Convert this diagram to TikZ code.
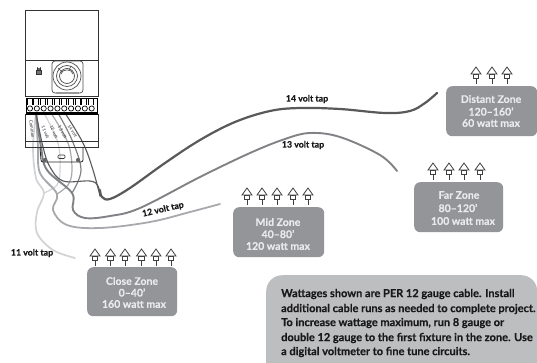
\documentclass[tikz,border=0pt]{standalone}
\usepackage{fontspec}
\setmainfont{Lato}[BoldFeatures={FakeBold=0.25}]
\definecolor{zonegray}{HTML}{939598}
\definecolor{notegray}{HTML}{BDBEC0}
\definecolor{zonetext}{HTML}{E9EAEB}
\definecolor{wa}{HTML}{58595B}
\definecolor{wb}{HTML}{808285}
\definecolor{wc}{HTML}{A7A9AC}
\definecolor{wd}{HTML}{D1D3D4}
\tikzset{
  zonebox/.style={fill=zonegray,rounded corners=6pt,draw=none},
  zonetxt/.style={text=zonetext,font=\fontsize{10.5}{12}\selectfont\bfseries,anchor=center,inner sep=0pt},
  taplabel/.style={font=\fontsize{8.8}{10}\selectfont\bfseries,text=black!90,inner sep=0pt},
  wirelabel/.style={font=\fontsize{4.4}{6}\selectfont,text=black!85,inner sep=0pt},
  notetxt/.style={font=\fontsize{11}{11}\selectfont\bfseries,text=black!90,anchor=west,inner sep=0pt},
  device/.style={draw=black!80,line width=.9pt},
  wire/.style={line width=#1,line cap=round,line join=round},
  fixture/.pic={
    \draw[black!75,line width=.8pt,fill=white] (-5,7) -- (0,0) -- (5,7) -- (3,7) -- (-3,7) -- cycle;
    \draw[black!75,line width=.8pt,fill=white] (-2.8,7) rectangle (2.8,11);
    \draw[black!75,line width=.8pt] (0,11) -- (0,17);
  }
}
\begin{document}
\begin{tikzpicture}[x=1pt,y=-1pt]
\useasboundingbox (0,0) rectangle (537,362);
\fill[white] (0,0) rectangle (537,362);

% terminals and free wire ends
\coordinate (tc) at (36,113);
\coordinate (t11) at (44,113);
\coordinate (t12) at (51,113);
\coordinate (t13) at (58,113);
\coordinate (t14) at (65,113);
\coordinate (e11) at (75,258);
\coordinate (e12) at (220,204);
\coordinate (e13) at (397,171);
\coordinate (e14) at (437,93);

% wires
\draw[wire=1.7pt,wd] plot[smooth,tension=.6] coordinates {(tc) (33,147) (36,178) (44,193) (37,212) (37,233) (53,250) (e11)};
\draw[wire=1.2pt,wd] plot[smooth,tension=.6] coordinates {(t11) (58,143) (60,170) (57,185) (44,193)};
\draw[wire=1.8pt,wc] plot[smooth,tension=.6] coordinates {(tc) (38,147) (40,173) (57,194) (53,210) (67,225) (100,228) (150,222) (190,212) (e12)};
\draw[wire=1.2pt,wc] plot[smooth,tension=.6] coordinates {(t12) (68,143) (72,170) (68,185) (57,194)};
\draw[wire=1.9pt,wb] plot[smooth,tension=.6] coordinates {(tc) (41,147) (47,170) (72,193) (73,210) (85,218) (110,216) (140,208) (200,177) (250,153) (285,139) (310,133) (340,137) (380,155) (e13)};
\draw[wire=1.2pt,wb] plot[smooth,tension=.6] coordinates {(t13) (72,140) (81,170) (72,193)};
\draw[wire=1.1pt,wa] plot[smooth,tension=.6] coordinates {(tc) (43,147) (50,167) (63,181) (90,181) (98,186) (100,196)};
\draw[wire=1.1pt,wa] plot[smooth,tension=.6] coordinates {(t14) (83,143) (93,170) (100,196)};
\draw[wire=2.2pt,wa] plot[smooth,tension=.6] coordinates {(100,190) (102,197) (110,199) (130,188) (165,163) (200,140) (235,122) (270,111) (300,108) (340,109) (385,113) (410,111) (425,103) (e14)};

% device
\node[device,fill=white,minimum width=73pt,minimum height=50pt,inner sep=0pt,anchor=north west] (top) at (25,9.5) {};
\node[device,fill=white,minimum width=73pt,minimum height=36pt,inner sep=0pt,anchor=north west] (mid) at (25,59.5) {};
\node[draw=black!70,line width=.7pt,fill=white,minimum width=31pt,minimum height=32pt,rounded corners=3pt,inner sep=0pt] (knob) at (67.5,77) {};
\draw[black!70,line width=.7pt] (67,76) circle (14) (67,76) circle (10.5) (67,76) circle (7.5);
\draw[black!70,line width=.7pt] (61,74) arc (180:360:6 and 4);
\draw[black!70,line width=.6pt] (58,68) -- (62,72) (71,66) -- (69,70);
\draw[black!40,line width=1.2pt] (56,93) -- (79,93);
\node[draw=black!80,fill=black!55,line width=.7pt,minimum width=4.5pt,minimum height=4pt,inner sep=0pt] (lockb) at (39,72) {};
\draw[black!80,line width=.8pt] (37.5,70) -- (37.5,68) arc (180:0:1.5) -- (40.5,70);
% terminal block
\node[draw=black,line width=1.1pt,fill=white,minimum width=71pt,minimum height=16pt,inner sep=0pt,anchor=north west] (blk) at (26,98) {};
\foreach \i in {0,...,9}{
  \pgfmathsetmacro{\xx}{27+\i*6.85}
  \draw[black,line width=.8pt] (\xx,98) -- (\xx,105) (\xx+5,98) -- (\xx+5,105);
  \draw[black,fill=white,line width=.7pt] (\xx+3,108.5) circle (2.6);
}
\fill[black] (26.5,112) rectangle (96.5,114.5);

% housing drawn open so the wires show
\draw[device] (25,114) -- (25,147.5) -- (98,147.5) -- (98,114);
\draw[black!80,line width=.7pt] (25,141) -- (98,141);
\draw[black!85,line width=.8pt] (40,147.5) -- (41,160) arc (180:90:2) -- (81,162) arc (90:0:2) -- (83,147.5);
\fill[black!60] (45,160) circle (2.1) (78,160) circle (2.1);
\draw[black!80,line width=.6pt,rounded corners=1pt] (58,155) rectangle (65,158.5);
\node[wirelabel,rotate=-83] (lc) at (32,129) {Common};
\node[wirelabel,rotate=-68] (l11) at (45.5,132.5) {11 volt};
\node[wirelabel,rotate=-66] (l12) at (54,132) {12 volt};
\node[wirelabel,rotate=-62] (l13) at (62.5,132) {13 volt};
\node[wirelabel,rotate=-56] (l14) at (72.5,131.5) {14 volt};

% tap labels
\node[taplabel] (tap14) at (307,99) {14 volt tap};
\node[taplabel] (tap13) at (303,145) {13 volt tap};
\node[taplabel,rotate=13] (tap12) at (163,209.5) {12 volt tap};
\node[taplabel] (tap11) at (32,253) {11 volt tap};

% fixtures
\foreach \x in {95,110.5,125,141.5,156,171} \pic at (\x,249) {fixture};
\foreach \x in {247,262,277,293,308} \pic at (\x,188) {fixture};
\foreach \x in {433,449,464,480} \pic at (\x,163) {fixture};
\foreach \x in {476,492,507} \pic at (\x,67) {fixture};

% zones
\node[zonebox,minimum width=90pt,minimum height=49pt,inner sep=0pt,anchor=north west] (close) at (87,267) {};
\node[zonetxt] (close1) at (132,281) {Close Zone};
\node[zonetxt] (close2) at (132,292.5) {0–40'};
\node[zonetxt] (close3) at (134,304) {160 watt max};

\node[zonebox,minimum width=91pt,minimum height=50pt,inner sep=0pt,anchor=north west] (midz) at (233,207) {};
\node[zonetxt] (mid1) at (278,222) {Mid Zone};
\node[zonetxt] (mid2) at (278,234) {40–80'};
\node[zonetxt] (mid3) at (278,246) {120 watt max};

\node[zonebox,minimum width=89pt,minimum height=50pt,inner sep=0pt,anchor=north west] (far) at (414,182) {};
\node[zonetxt] (far1) at (459,195) {Far Zone};
\node[zonetxt] (far2) at (458,208) {80–120'};
\node[zonetxt] (far3) at (463,221) {100 watt max};

\node[zonebox,minimum width=91pt,minimum height=50pt,inner sep=0pt,anchor=north west] (dist) at (446,86) {};
\node[zonetxt] (dist1) at (491,99) {Distant Zone};
\node[zonetxt] (dist2) at (491,111.5) {120–160'};
\node[zonetxt] (dist3) at (491,123) {60 watt max};

% note
\node[fill=notegray,rounded corners=16pt,minimum width=271pt,minimum height=110pt,inner sep=0pt,anchor=north west] (note) at (266,275) {};
\node[notetxt] (n1) at (281,294) {Wattages shown are PER 12 gauge cable. Install};
\node[notetxt] (n2) at (281,309) {additional cable runs as needed to complete project.};
\node[notetxt] (n3) at (281,323) {To increase wattage maximum, run 8 gauge or};
\node[notetxt] (n4) at (281,338) {double 12 gauge to the first fixture in the zone. Use};
\node[notetxt] (n5) at (281,352) {a digital voltmeter to fine tune circuits.};
\end{tikzpicture}
\end{document}
